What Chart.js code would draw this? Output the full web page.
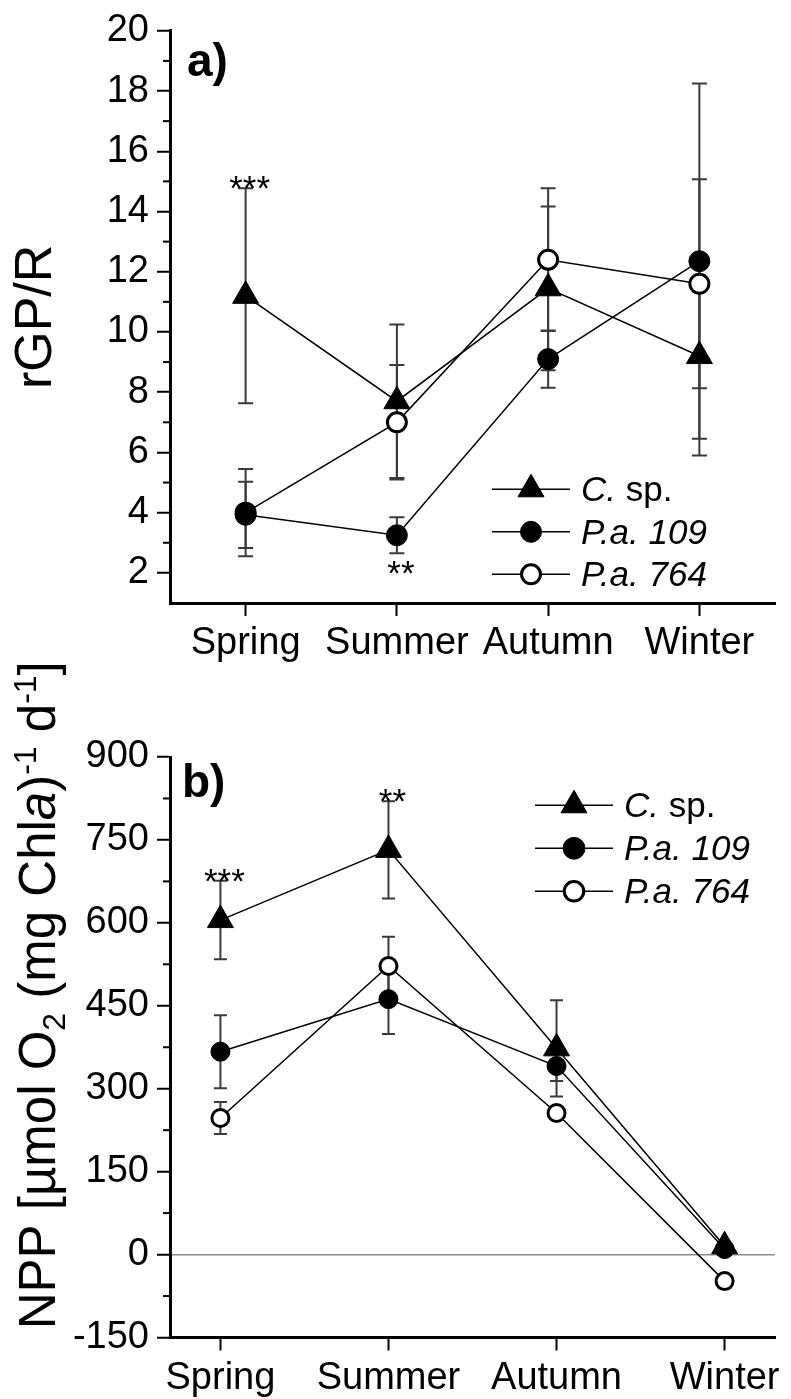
<!DOCTYPE html>
<html>
<head>
<meta charset="utf-8">
<script src="https://cdn.jsdelivr.net/npm/chart.js@4.4.1/dist/chart.umd.min.js"></script>
<style>
  body { margin: 0; background: #fff; }
  .panel { position: absolute; left: 0; width: 791px; }
  #wrapA { top: 0; height: 700px; }
  #wrapB { top: 640px; height: 759px; }
</style>
</head>
<body>
<div class="panel" id="wrapA"><canvas id="chartA" width="791" height="700"></canvas></div>
<div class="panel" id="wrapB"><canvas id="chartB" width="791" height="759"></canvas></div>
<script>
/* ==========================
   DATA
========================== */
const seasons = ['Spring', 'Summer', 'Autumn', 'Winter'];
const seriesLabels = ['C. sp.', 'P.a. 109', 'P.a. 764'];

// a) rGP/R  (mean, error)
const gprC      = [11.2, 7.7, 11.45, 9.2];
const gprCErr   = [3.57, 2.55, 2.72, 3.3];
const gpr109    = [3.93, 3.25, 9.1, 12.35];
const gpr109Err = [1.1, 0.6, 0.95, 5.9];
const gpr764    = [4.0, 7.0, 12.4, 11.6];
const gpr764Err = [1.45, 1.9, 2.37, 3.47];
const gprTicks  = [2, 4, 6, 8, 10, 12, 14, 16, 18, 20];

// b) NPP  (mean, error)
const nppC      = [605, 732, 373, 15];
const nppCErr   = [71, 88, 87, 8];
const npp109    = [367, 462, 341, 10];
const npp109Err = [66, 63, 27, 6];
const npp764    = [247, 522, 256, -48];
const npp764Err = [29, 53, 5, 8];
const nppTicks  = [-150, 0, 150, 300, 450, 600, 750, 900];

// significance marks: season index, series index, text, side of error bar
const sigA = [[0, 0, '***', 'above'], [1, 1, '**', 'below']];
const sigB = [[0, 0, '***', 'above'], [1, 0, '**', 'above']];

const FONT = "'Liberation Sans', Arial, sans-serif";
Chart.defaults.font.family = FONT;
Chart.defaults.color = '#000';

/* ==========================
   PLUGINS
========================== */
const errorBars = {
  id: 'errorBars',
  beforeDatasetsDraw(chart, args, opts) {
    const { ctx, scales: { x, y } } = chart;
    ctx.save();
    ctx.strokeStyle = '#3a3a3a';
    ctx.lineWidth = 2;
    chart.data.datasets.forEach(ds => {
      ds.data.forEach((p, i) => {
        const e = ds.errors[i];
        const px = x.getPixelForValue(p.x);
        const top = y.getPixelForValue(p.y + e);
        const bot = y.getPixelForValue(p.y - e);
        const c = opts.cap / 2;
        ctx.beginPath();
        ctx.moveTo(px, top); ctx.lineTo(px, bot);
        ctx.moveTo(px - c, top); ctx.lineTo(px + c, top);
        ctx.moveTo(px - c, bot); ctx.lineTo(px + c, bot);
        ctx.stroke();
      });
    });
    ctx.restore();
  }
};

// minor ticks halfway between the labelled ones
const minorTicks = {
  id: 'minorTicks',
  afterDraw(chart) {
    const { ctx, chartArea, scales: { y } } = chart;
    const vals = y.ticks.map(t => t.value);
    ctx.save();
    ctx.strokeStyle = '#000';
    ctx.lineWidth = 2;
    for (let i = 0; i < vals.length - 1; i++) {
      const py = y.getPixelForValue((vals[i] + vals[i + 1]) / 2);
      ctx.beginPath();
      ctx.moveTo(chartArea.left - 7, py);
      ctx.lineTo(chartArea.left, py);
      ctx.stroke();
    }
    ctx.restore();
  }
};

function drawLabel(ctx, label, x, y, size) {
  // genus abbreviation italic, " sp." upright
  let parts = [[label, true]];
  if (label.endsWith(' sp.')) parts = [[label.slice(0, -4), true], [' sp.', false]];
  ctx.textBaseline = 'middle';
  ctx.textAlign = 'left';
  parts.forEach(([t, it]) => {
    ctx.font = (it ? 'italic ' : '') + size + 'px ' + FONT;
    ctx.fillText(t, x, y);
    x += ctx.measureText(t).width;
  });
}

const lineLegend = {
  id: 'lineLegend',
  afterDatasetsDraw(chart, args, o) {
    const { ctx, chartArea } = chart;
    const x0 = chartArea.right - o.fromRight;
    ctx.save();
    chart.data.datasets.forEach((ds, i) => {
      const y = chartArea.top + o.top + i * o.gap;
      ctx.strokeStyle = '#000';
      ctx.lineWidth = 1.5;
      ctx.beginPath();
      ctx.moveTo(x0, y); ctx.lineTo(x0 + o.lineLen, y);
      ctx.stroke();
      ctx.fillStyle = ds.pointBackgroundColor;
      ctx.lineWidth = ds.pointBorderWidth;
      Chart.helpers.drawPoint(ctx, {
        pointStyle: ds.pointStyle,
        radius: ds.pointRadius * (ds.pointStyle === 'circle' ? o.circleScale : 1),
        rotation: 0,
        borderWidth: ds.pointBorderWidth
      }, x0 + o.lineLen / 2, y);
      ctx.fillStyle = '#000';
      drawLabel(ctx, ds.label, x0 + o.lineLen + 11, y + 2, o.size);
    });
    ctx.restore();
  }
};

const notes = {
  id: 'notes',
  afterDatasetsDraw(chart, args, o) {
    const { ctx, chartArea, scales: { x, y } } = chart;
    ctx.save();
    ctx.fillStyle = '#000';
    // panel letter
    ctx.font = 'bold 46px ' + FONT;
    ctx.textAlign = 'left';
    ctx.textBaseline = 'alphabetic';
    ctx.fillText(o.letter, chartArea.left + o.letterX, chartArea.top + o.letterY);
    // asterisks
    ctx.font = '35px ' + FONT;
    ctx.textAlign = 'center';
    o.sig.forEach(([season, s, text, side]) => {
      const ds = chart.data.datasets[s];
      const v = ds.data[season].y, e = ds.errors[season];
      const px = x.getPixelForValue(season) + 4;
      if (side === 'above') ctx.fillText(text, px, y.getPixelForValue(v + e) + 12);
      else ctx.fillText(text, px, y.getPixelForValue(v - e) + 32);
    });
    ctx.restore();
  }
};

// y title with subscript / superscript / italic parts
const richTitle = {
  id: 'richTitle',
  afterDraw(chart, args, o) {
    if (!o.parts) return;
    const { ctx, chartArea } = chart;
    const size = o.size, small = Math.round(size * 0.62);
    const fontOf = p => (p.it ? 'italic ' : '') + (p.sub || p.sup ? small : size) + 'px ' + FONT;
    ctx.save();
    let total = 0;
    o.parts.forEach(p => { ctx.font = fontOf(p); total += ctx.measureText(p.t).width; });
    ctx.translate(o.x, (chartArea.top + chartArea.bottom) / 2 + o.shift);
    ctx.rotate(-Math.PI / 2);
    ctx.fillStyle = '#000';
    ctx.textBaseline = 'alphabetic';
    ctx.textAlign = 'left';
    let cx = -total / 2;
    o.parts.forEach(p => {
      ctx.font = fontOf(p);
      const dy = p.sub ? size * 0.2 : p.sup ? -size * 0.38 : 0;
      ctx.fillText(p.t, cx, dy);
      cx += ctx.measureText(p.t).width;
    });
    ctx.restore();
  }
};

/* ==========================
   BUILD CHARTS
========================== */
function makeDatasets(values, errors, circleR) {
  return values.map((vals, s) => ({
    label: seriesLabels[s],
    data: vals.map((v, i) => ({ x: i, y: v })),
    errors: errors[s],
    borderColor: '#000',
    borderWidth: 1.5,
    pointStyle: s === 0 ? 'triangle' : 'circle',
    pointRadius: s === 0 ? 15 : (s === 2 ? circleR - 1 : circleR),
    pointBackgroundColor: s === 2 ? '#fff' : '#000',
    pointBorderColor: '#000',
    pointBorderWidth: s === 2 ? 3 : 1
  }));
}

function makeScales(cfg) {
  return {
    x: {
      type: 'linear', min: cfg.xMin, max: cfg.xMax,
      afterBuildTicks: s => { s.ticks = seasons.map((_, i) => ({ value: i })); },
      afterFit: s => { s.height = cfg.xHeight; },
      ticks: { callback: v => seasons[v], font: { size: 38 }, padding: 5, maxRotation: 0, autoSkip: false },
      grid: { drawOnChartArea: false, tickLength: 13, tickWidth: 2, tickColor: '#000' },
      border: { color: '#000', width: 3 }
    },
    y: {
      min: cfg.yMin, max: cfg.yMax,
      afterBuildTicks: s => { s.ticks = cfg.yTicks.map(v => ({ value: v })); },
      afterFit: s => { s.width = 170; },
      ticks: { callback: v => String(v), font: { size: 38 }, padding: 8 },
      grid: {
        drawOnChartArea: cfg.zeroLine,
        color: c => (c.tick && c.tick.value === 0 ? '#8c8c8c' : 'rgba(0,0,0,0)'),
        lineWidth: 1.5,
        tickLength: 13, tickWidth: 2, tickColor: '#000'
      },
      border: { color: '#000', width: 3 },
      title: { display: !!cfg.title, text: cfg.title, font: { size: 52 }, padding: { top: 5, bottom: 0 } }
    }
  };
}

new Chart(document.getElementById('chartA'), {
  type: 'line',
  data: { datasets: makeDatasets([gprC, gpr109, gpr764], [gprCErr, gpr109Err, gpr764Err], 10.5) },
  plugins: [errorBars, minorTicks, lineLegend, notes, richTitle],
  options: {
    responsive: false, animation: false, devicePixelRatio: 1,
    layout: { padding: { top: 23, right: 8, bottom: 0, left: 0 } },
    scales: makeScales({ xMin: -0.5, xMax: 3.5, xHeight: 97, yMin: 1, yMax: 20, yTicks: gprTicks, zeroLine: false, title: 'rGP/R' }),
    plugins: {
      legend: { display: false }, tooltip: { enabled: false },
      errorBars: { cap: 15 },
      lineLegend: { fromRight: 283, top: 458.5, gap: 42.5, lineLen: 78, size: 35, circleScale: 1 },
      notes: { letter: 'a)', letterX: 17, letterY: 45, sig: sigA },
      richTitle: {}
    }
  }
});

// panel b canvas starts higher so its long axis title can reach into panel a's margin
new Chart(document.getElementById('chartB'), {
  type: 'line',
  data: { datasets: makeDatasets([nppC, npp109, npp764], [nppCErr, npp109Err, npp764Err], 9.5) },
  plugins: [errorBars, minorTicks, lineLegend, notes, richTitle],
  options: {
    responsive: false, animation: false, devicePixelRatio: 1,
    layout: { padding: { top: 117, right: 7, bottom: 0, left: 0 } },
    scales: makeScales({ xMin: -0.3, xMax: 3.3, xHeight: 61.5, yMin: -150, yMax: 900, yTicks: nppTicks, zeroLine: true, title: '' }),
    plugins: {
      legend: { display: false }, tooltip: { enabled: false },
      errorBars: { cap: 13 },
      lineLegend: { fromRight: 240, top: 48.3, gap: 43, lineLen: 78, size: 35, circleScale: 1.15 },
      notes: { letter: 'b)', letterX: 12, letterY: 40, sig: sigB },
      richTitle: {
        x: 55, shift: -52, size: 51,
        parts: [
          { t: 'NPP [µmol O' }, { t: '2', sub: true }, { t: ' (mg Chl' }, { t: 'a', it: true },
          { t: ')' }, { t: '-1', sup: true }, { t: ' d' }, { t: '-1', sup: true }, { t: ']' }
        ]
      }
    }
  }
});
</script>
</body>
</html>
